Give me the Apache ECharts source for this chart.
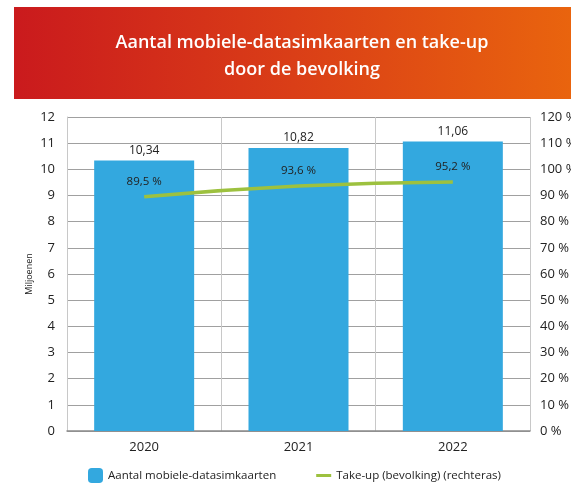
<!DOCTYPE html>
<html>
<head>
<meta charset="utf-8">
<script src="https://cdn.jsdelivr.net/npm/echarts@6/dist/echarts.min.js"></script>
<style>
html, body { margin: 0; padding: 0; background: #fff; }
#chart { width: 571px; height: 485px; }
</style>
</head>
<body>
<div id="chart"></div>
<script>
// data
var years = ["2020", "2021", "2022"];
var simkaarten = [10.34, 10.82, 11.06];   // miljoenen
var takeUp = [89.5, 93.6, 95.2];          // %

var fontFam = "'Open Sans', 'Noto Sans', sans-serif";

function komma(v, d) {
    return v.toFixed(d).replace(".", ",");
}

var chart = echarts.init(document.getElementById("chart"));
var option = {
    animation: false,
    textStyle: { fontFamily: fontFam },
    graphic: [
        {
            type: "rect",
            shape: { x: 14, y: 7, width: 557, height: 92 },
            style: {
                fill: new echarts.graphic.LinearGradient(0, 0, 1, 0, [
                    { offset: 0, color: "#CA1A1D" },
                    { offset: 0.5, color: "#DA3E17" },
                    { offset: 1, color: "#E9640E" }
                ])
            },
            z: 0
        },
        {
            type: "text",
            x: 302, y: 56,
            style: {
                text: "Aantal mobiele-datasimkaarten en take-up\ndoor de bevolking",
                fill: "#fff",
                font: "600 18px " + fontFam,
                textAlign: "center",
                textVerticalAlign: "middle",
                lineHeight: 27
            },
            z: 1
        }
    ],
    legend: {
        top: 463,
        left: 83,
        itemGap: 40,
        textStyle: { fontSize: 11.5, color: "#222" },
        data: [
            { name: "Aantal mobiele-datasimkaarten", icon: "roundRect", itemStyle: { borderRadius: 2 } },
            { name: "Take-up (bevolking) (rechteras)", icon: "path://M0,0 H5 V1 H0 Z" }
        ],
        itemWidth: 15,
        itemHeight: 15
    },
    grid: { left: 67, right: 41, top: 117, bottom: 54, outerBoundsMode: "none" },
    xAxis: {
        type: "category",
        data: years,
        axisTick: { show: false },
        axisLine: { lineStyle: { color: "#8a8a8a", width: 1.5 } },
        axisLabel: { fontSize: 13, color: "#222", margin: 10 },
        splitLine: { show: true, lineStyle: { color: "#c8c8c8" } }
    },
    yAxis: [
        {
            type: "value",
            min: 0, max: 12, interval: 1,
            name: "Miljoenen",
            nameLocation: "middle",
            nameRotate: 90,
            nameGap: 33,
            nameMoveOverlap: false,
            nameTextStyle: { fontSize: 9, color: "#222" },
            axisLine: { show: true, lineStyle: { color: "#c8c8c8" } },
            axisTick: { show: false },
            axisLabel: { fontSize: 13, color: "#222", margin: 12 },
            splitLine: { lineStyle: { color: "#a0a0a0" } }
        },
        {
            type: "value",
            min: 0, max: 120, interval: 10,
            position: "right",
            axisLine: { show: false },
            axisTick: { show: false },
            axisLabel: { fontSize: 13, color: "#222", margin: 10, formatter: "{value} %" },
            splitLine: { show: false }
        }
    ],
    series: [
        {
            name: "Aantal mobiele-datasimkaarten",
            type: "bar",
            data: simkaarten,
            barWidth: 100,
            itemStyle: { color: "#33A8DF" },
            label: {
                show: true,
                position: "top",
                distance: 4,
                fontSize: 12,
                color: "#222",
                formatter: function (p) { return komma(p.value, 2); }
            }
        },
        {
            name: "Take-up (bevolking) (rechteras)",
            type: "line",
            yAxisIndex: 1,
            data: takeUp,
            smooth: true,
            showSymbol: true,
            symbolSize: 0,
            lineStyle: { color: "#9DC13F", width: 3.5 },
            itemStyle: { color: "#9DC13F" },
            label: {
                show: true,
                position: "top",
                distance: 9,
                fontSize: 11.5,
                color: "#222",
                formatter: function (p) { return komma(p.value, 1) + " %"; }
            },
            z: 3
        }
    ]
};
chart.setOption(option);
</script>
</body>
</html>
